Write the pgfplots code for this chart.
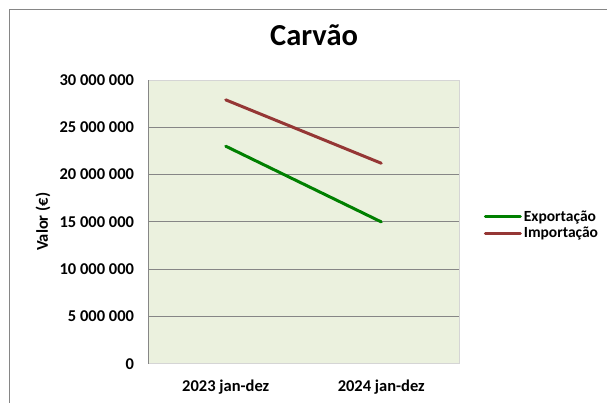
\documentclass[border=0pt]{standalone}
\usepackage{fontspec}
\setmainfont{Carlito}
\usepackage{pgfplots}
\pgfplotsset{compat=1.18}
\definecolor{bgc}{HTML}{EBF1DE}
\definecolor{gridc}{HTML}{868686}
\definecolor{expc}{HTML}{008000}
\definecolor{impc}{HTML}{953735}
\begin{document}
\begin{tikzpicture}[x=1pt,y=1pt]
\useasboundingbox (0,0) rectangle (607,403);
\draw[gridc, line width=0.8pt] (9,0) -- (9,394) -- (607.5,394);
\begin{axis}[
  at={(148pt,39.2pt)}, anchor=south west,
  scale only axis, width=311pt, height=283.8pt,
  xmin=-0.5, xmax=1.5, ymin=0, ymax=30000000,
  scaled y ticks=false,
  xtick={0,1}, xticklabels={2023 jan-dez, 2024 jan-dez},
  ytick={0,5000000,10000000,15000000,20000000,25000000,30000000},
  yticklabels={0,5~000~000,10~000~000,15~000~000,20~000~000,25~000~000,30~000~000},
  ymajorgrids, grid style={gridc, line width=0.8pt},
  axis background/.style={fill=bgc},
  axis line style={draw=gridc!35, line width=0.8pt},
  major tick length=0pt,
  tick label style={font=\bfseries\fontsize{16.5}{18}\selectfont},
  yticklabel style={xshift=-10.5pt},
  xticklabel style={anchor=base, yshift=-27.7pt},
  ylabel={Valor (€)},
  ylabel style={font=\bfseries\fontsize{16.5}{18}\selectfont, at={(axis description cs:-0.3376,0.5)}, anchor=center, rotate=0},
  title={Carvão},
  title style={font=\bfseries\fontsize{30.5}{34}\selectfont, at={(axis description cs:0.534,1.0997)}, anchor=base},
  legend style={at={(axis description cs:1.08,0.489)}, anchor=west, draw=none, fill=none,
    font=\bfseries\fontsize{15.5}{15.5}\selectfont, row sep=0pt, inner sep=0pt, outer sep=0pt,
    /tikz/every even column/.append style={column sep=1.5pt}},
  legend cell align=left,
  legend image code/.code={\draw[#1, line width=3pt] (0pt,0pt) -- (35pt,0pt);},
]
\addplot[expc, line width=3pt, line cap=round] coordinates {(0,23000000) (1,15000000)};
\addlegendentry{Exportação}
\addplot[impc, line width=3pt, line cap=round] coordinates {(0,27900000) (1,21200000)};
\addlegendentry{Importação}
\draw[gridc, line width=0.8pt] (rel axis cs:0,0) -- (rel axis cs:0,1);
\end{axis}
\end{tikzpicture}
\end{document}
